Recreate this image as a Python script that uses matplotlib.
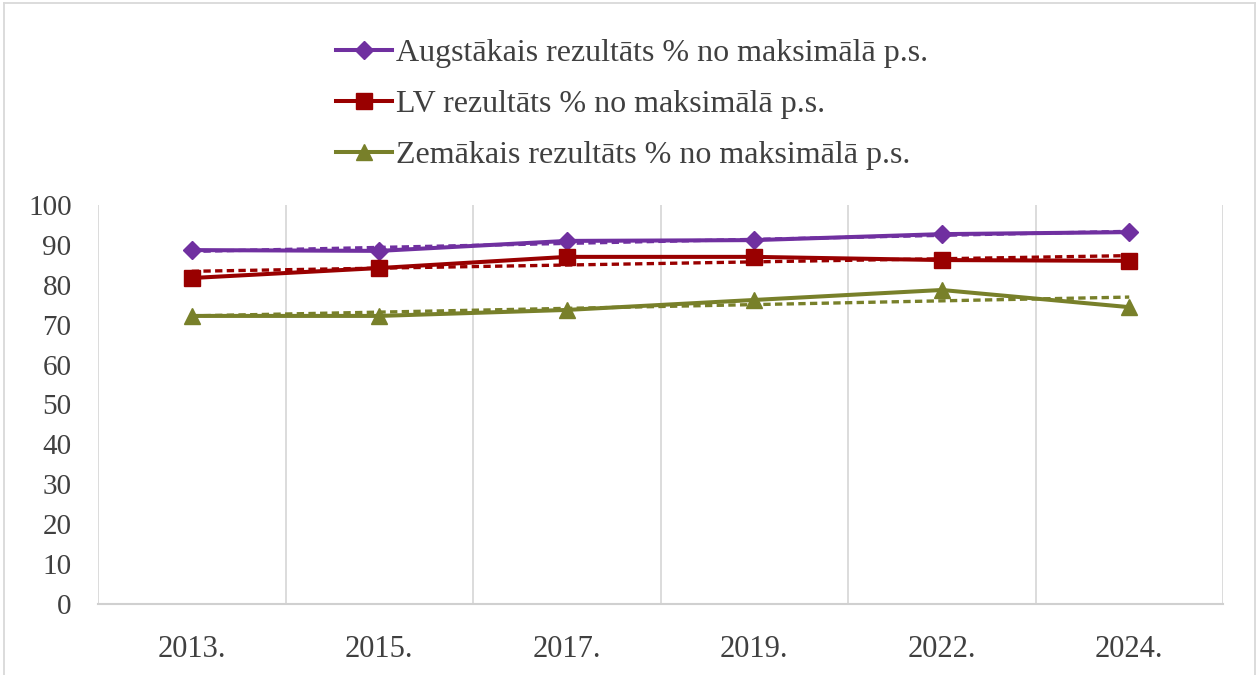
import numpy as np
import matplotlib
matplotlib.use("Agg")
import matplotlib.pyplot as plt
from matplotlib.lines import Line2D

years = ["2013.", "2015.", "2017.", "2019.", "2022.", "2024."]
augst = [88.7, 88.5, 91.0, 91.2, 92.7, 93.2]
lv = [81.7, 84.2, 87.0, 87.0, 86.2, 86.0]
zem = [72.2, 72.2, 73.7, 76.2, 78.7, 74.4]

labels = ["Augstākais rezultāts % no maksimālā p.s.",
          "LV rezultāts % no maksimālā p.s.",
          "Zemākais rezultāts % no maksimālā p.s."]
colors = ["#7030A0", "#990000", "#78802A"]
markers = ["D", "s", "^"]
msizes = [9.5, 11, 11.5]

plt.rcParams['font.family'] = ['Liberation Serif', 'DejaVu Serif']

fig = plt.figure(figsize=(12.59, 6.75), dpi=100)
ax = fig.add_axes([98/1259, 1-604/675, (1223-98)/1259, (604-205)/675])

x = np.arange(len(years))
handles = []
for vals, c, m, ms, lab in zip([augst, lv, zem], colors, markers, msizes, labels):
    coef = np.polyfit(x, vals, 1)
    ax.plot(x, np.polyval(coef, x), color=c, lw=2.4, ls=(0, (2.2, 1.3)), zorder=2)
    ln, = ax.plot(x, vals, color=c, lw=2.9, marker=m, ms=ms, zorder=3, label=lab)
    handles.append(ln)

ax.set_xlim(-0.5, len(years) - 0.5)
ax.set_ylim(0, 100)
ax.set_yticks(np.arange(0, 101, 10))
ax.set_xticks(x)
ax.set_xticklabels(years)
ax.set_xticks(np.arange(-0.5, len(years), 1), minor=True)
ax.grid(which='minor', axis='x', color='#D9D9D9', lw=1.3)
ax.tick_params(axis='both', which='both', length=0)
ax.tick_params(axis='y', labelsize=21, colors='#404040', pad=19)
ax.tick_params(axis='x', labelsize=22, colors='#404040', pad=22)
for s in ['top', 'left', 'right']:
    ax.spines[s].set_visible(False)
ax.spines['bottom'].set_color('#D0D0D0')
ax.spines['bottom'].set_linewidth(1.5)

fig.legend(handles=handles, loc='upper center', bbox_to_anchor=(0.502, 0.985),
           ncol=1, frameon=False, fontsize=23, handlelength=1.75,
           handletextpad=0.12, labelspacing=0.68, labelcolor='#404040')

# outer border
fig.add_artist(Line2D([4/1259, 4/1259], [0, 1-3/675], color='#D9D9D9', lw=1.3, transform=fig.transFigure))
fig.add_artist(Line2D([1255/1259, 1255/1259], [0, 1-3/675], color='#D9D9D9', lw=1.3, transform=fig.transFigure))
fig.add_artist(Line2D([4/1259, 1255/1259], [1-3/675, 1-3/675], color='#D9D9D9', lw=1.3, transform=fig.transFigure))

fig.savefig("out.png", dpi=100)
